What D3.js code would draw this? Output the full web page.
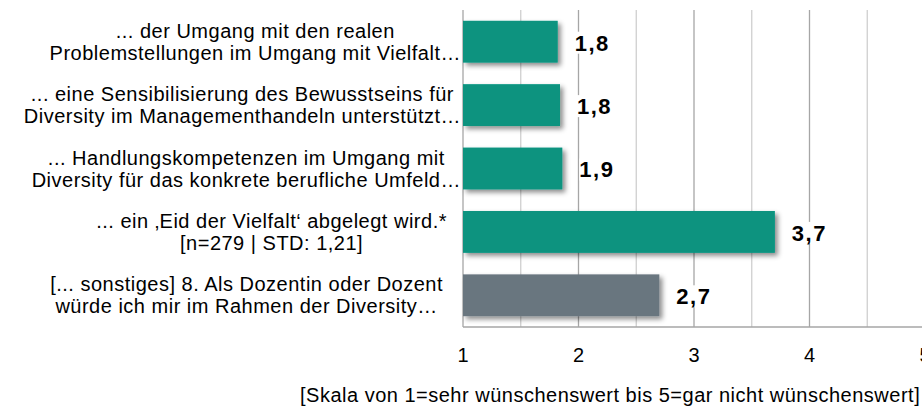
<!DOCTYPE html>
<html>
<head>
<meta charset="utf-8">
<script src="https://cdn.jsdelivr.net/npm/d3@7"></script>
<style>
  body { margin: 0; background: #fff; }
  svg { font-family: "Liberation Sans", Arial, sans-serif; }
</style>
</head>
<body>
<svg width="922" height="408"></svg>
<script>
// chart data
var categories = [
    ["... der Umgang mit den realen", "Problemstellungen im Umgang mit Vielfalt…"],
    ["... eine Sensibilisierung des Bewusstseins für", "Diversity im Managementhandeln unterstützt…"],
    ["... Handlungskompetenzen im Umgang mit", "Diversity für das konkrete berufliche Umfeld…"],
    ["... ein ‚Eid der Vielfalt‘ abgelegt wird.*", "[n=279 | STD: 1,21]"],
    ["[... sonstiges] 8. Als Dozentin oder Dozent", "würde ich mir im Rahmen der Diversity…"]
];
var values = [1.82, 1.84, 1.86, 3.70, 2.70];
var barColors = ["#07937f", "#07937f", "#07937f", "#07937f", "#69767f"];
var ticks = [1, 2, 3, 4, 5];
var axisTitle = "[Skala von 1=sehr wünschenswert bis 5=gar nicht wünschenswert]";

// layout (px)
var labelRight = [461, 461, 461, 447, 443];

var svg = d3.select("svg");
var margin = {left: 463, top: 10, bottom: 81};
var height = +svg.attr("height");

var x = d3.scaleLinear().domain([1, 5]).range([margin.left, margin.left + 462]);
var y = d3.scaleBand()
    .domain(d3.range(categories.length))
    .range([margin.top, height - margin.bottom])
    .paddingInner(0.34).paddingOuter(0.17);

var fmt = function(v) { return d3.format(".1f")(v).replace(".", ","); };

var defs = svg.append("defs");
defs.append("filter").attr("id", "shadow")
    .attr("x", "-10%").attr("y", "-20%").attr("width", "130%").attr("height", "160%")
    .append("feDropShadow")
    .attr("dx", 3).attr("dy", 3).attr("stdDeviation", 2.5)
    .attr("flood-color", "#000").attr("flood-opacity", 0.45);

// gridlines
var grid = d3.range(1.5, 5.01, 0.5);
svg.append("g").selectAll("line")
    .data(grid).enter().append("line")
    .attr("x1", function(d) { return x(d); })
    .attr("x2", function(d) { return x(d); })
    .attr("y1", margin.top)
    .attr("y2", height - margin.bottom)
    .attr("stroke", function(d) { return d % 1 === 0 ? "#a6a6a6" : "#cfcfcf"; })
    .attr("stroke-width", 1.3);

// axes lines
svg.append("line")
    .attr("x1", x(1)).attr("x2", x(1))
    .attr("y1", margin.top).attr("y2", height - margin.bottom)
    .attr("stroke", "#a6a6a6").attr("stroke-width", 1.3);
svg.append("line")
    .attr("x1", x(1)).attr("x2", 922)
    .attr("y1", height - margin.bottom).attr("y2", height - margin.bottom)
    .attr("stroke", "#a6a6a6").attr("stroke-width", 1.3);

// bars
svg.append("g").selectAll("rect")
    .data(values).enter().append("rect")
    .attr("x", x(1))
    .attr("y", function(d, i) { return y(i); })
    .attr("width", function(d) { return x(d) - x(1); })
    .attr("height", y.bandwidth())
    .attr("fill", function(d, i) { return barColors[i]; })
    .attr("filter", "url(#shadow)");

// value labels with white box
var vl = svg.append("g").selectAll("g")
    .data(values).enter().append("g")
    .attr("transform", function(d, i) { return "translate(" + (x(d) + 17) + "," + (y(i) + y.bandwidth() / 2 + 1) + ")"; });
vl.append("rect")
    .attr("x", 0).attr("y", -11).attr("width", 37).attr("height", 22)
    .attr("fill", "#fff");
vl.append("text")
    .attr("dy", "0.36em")
    .attr("font-size", 22)
    .attr("letter-spacing", 1.5)
    .attr("font-weight", "bold")
    .attr("fill", "#000")
    .text(function(d) { return fmt(d); });

// category labels (lines centred on the widest line)
var cl = svg.append("g").selectAll("g")
    .data(categories).enter().append("g");
cl.each(function(lines, i) {
    var g = d3.select(this);
    var cy = y(i) + y.bandwidth() / 2;
    var texts = g.selectAll("text").data(lines).enter().append("text")
        .attr("font-size", 20)
        .attr("letter-spacing", 0.5)
        .attr("fill", "#000")
        .attr("text-anchor", "middle")
        .attr("y", function(d, k) { return cy + (k - (lines.length - 1) / 2) * 22; })
        .attr("dy", "0.35em")
        .text(function(d) { return d; });
    var w = 0;
    texts.each(function() { w = Math.max(w, this.getComputedTextLength()); });
    texts.attr("x", labelRight[i] - w / 2);
});

// tick labels
svg.append("g").selectAll("text")
    .data(ticks).enter().append("text")
    .attr("x", function(d) { return x(d); })
    .attr("y", 355)
    .attr("dy", "0.35em")
    .attr("text-anchor", "middle")
    .attr("font-size", 20)
    .attr("fill", "#000")
    .text(function(d) { return d; });

svg.append("text")
    .attr("x", 300)
    .attr("y", 402)
    .attr("font-size", 20)
    .attr("letter-spacing", 0.5)
    .attr("fill", "#000")
    .text(axisTitle);
</script>
</body>
</html>
